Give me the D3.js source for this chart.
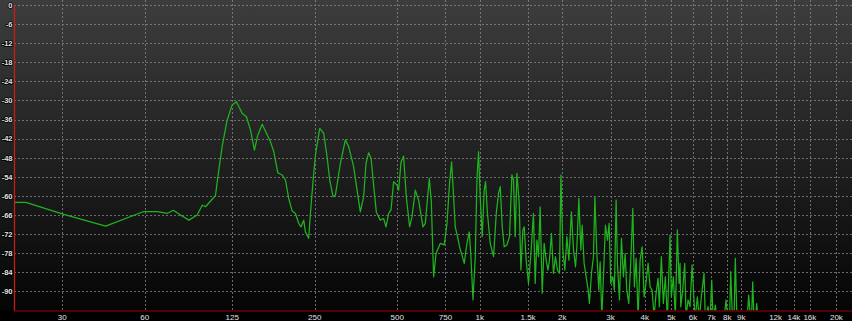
<!DOCTYPE html>
<html>
<head>
<meta charset="utf-8">
<script src="https://d3js.org/d3.v7.min.js"></script>
<style>
  body { margin: 0; background: #000; }
  svg { display: block; }
  .tick-lbl { font-family: "Liberation Sans", Arial, sans-serif; fill: #e2e2e2; paint-order: stroke; stroke: #000; stroke-width: 1.5px; }
</style>
</head>
<body>
<svg id="chart"></svg>
<script>
// spectrum: frequency (Hz) and level (dB)
var freqs = [20.1, 22.1, 30.4, 43.2, 59.5, 66.6, 72.4, 76.2, 81.0, 86.9, 93.2, 97.2, 99.9, 107.1, 108.7, 111.7, 114.9, 119.8, 125, 129.6,
  135.9, 140.9, 145.8, 150.7, 155.0, 160.8, 166.7, 172.4, 177.3, 183.3, 190.1, 195.5, 201.0, 206.8, 212.6, 218.6, 223.0, 228.0, 231.2, 237.7,
  241.2, 246.7, 252, 260.8, 269.6, 277.4, 283.6, 291.8, 297.5, 310.1, 323.5, 332.6, 346.7, 356.8, 366.8, 377.1, 384.7, 393.4, 401.4, 410.1,
  419.6, 433.8, 446, 455, 465.2, 474.7, 485, 499.3, 505.9, 516.2, 527.4, 539.6, 554.8, 566, 582, 598.3, 620.7, 632.9, 654.7, 665.7,
  678.8, 692.6, 718, 742.3, 759.4, 775.9, 789.5, 802.8, 814, 829.9, 843.8, 861.4, 877.8, 898, 915.7, 928.6, 944.7, 963.2, 976.7, 989.9,
  1004, 1021, 1038, 1050, 1067, 1092, 1123, 1149, 1171, 1188, 1208, 1228, 1256, 1284, 1310, 1328, 1347, 1366, 1393, 1413,
  1437, 1453, 1477, 1506, 1537, 1570, 1593, 1616, 1638, 1661, 1690, 1718, 1747, 1773, 1796, 1826, 1857, 1889, 1921, 1954,
  1977, 2010, 2044, 2079, 2114, 2160, 2198, 2235, 2261, 2299, 2338, 2364, 2403, 2444, 2486, 2512, 2556, 2599, 2630, 2674,
  2719, 2749, 2788, 2826, 2874, 2922, 2965, 3006, 3058, 3099, 3144, 3178, 3233, 3288, 3343, 3391, 3439, 3497, 3557, 3617,
  3665, 3719, 3782, 3846, 3911, 3978, 4045, 4113, 4182, 4253, 4325, 4398, 4472, 4521, 4597, 4675, 4754, 4836, 4945, 5000,
  5084, 5170, 5258, 5333, 5378, 5410, 5501, 5594, 5657, 5752, 5849, 5950, 6013, 6101, 6220, 6325, 6431, 6580, 6653, 6803, 6920,
  7018, 7100, 7234, 7336, 7782, 7912, 8045, 8152, 8232, 8356, 8462, 8556, 8676, 9440, 9575, 9720, 9802, 9903, 10010, 10130, 10240, 10350];

var levels = [-62.0, -62.0, -65.8, -69.5, -64.9, -64.9, -65.5, -64.5, -66.0, -67.6, -66.0, -62.9, -63.4, -60.5, -59.7, -51.9, -44.5, -36.2, -31.4, -30.4,
  -34.0, -35.1, -39.3, -45.6, -40.9, -37.5, -40.3, -43.0, -46.1, -52.7, -53.4, -55.0, -60.8, -64.7, -65.5, -68.6, -69.7, -67.6, -71.3, -73.3,
  -65.5, -55.0, -46.6, -38.8, -40.3, -47.7, -55.0, -60.3, -59.7, -49.8, -42.4, -44.5, -50.8, -58.2, -65.0, -60.3, -49.8, -46.4, -48.2, -56.6,
  -65.1, -67.6, -67.1, -69.7, -65.5, -64.4, -55.5, -56.6, -58.2, -49.3, -47.5, -60.3, -69.7, -66.6, -58.2, -61.3, -69.7, -68.6, -54.5, -61.8,
  -85.4, -78.1, -74.9, -75.4, -68.6, -56.1, -49.3, -60.3, -69.7, -72.8, -76.0, -78.6, -81.2, -74.9, -71.3, -79.1, -92.7, -79.1, -55.0, -46.1,
  -60.3, -72.8, -58.2, -55.5, -65.5, -74.9, -79.1, -65.5, -59.2, -57.1, -69.7, -76.0, -75.4, -72.8, -53.4, -55.0, -72.8, -52.9, -62.3, -83.3,
  -70.7, -69.7, -80.2, -87.5, -78.1, -65.5, -87.5, -73.9, -79.1, -63.4, -90.6, -74.9, -80.2, -83.3, -80.2, -71.8, -84.3, -79.1, -83.3, -84.3,
  -53.4, -77.0, -83.3, -72.8, -80.2, -65.0, -77.0, -82.3, -76.0, -60.8, -77.0, -69.2, -81.2, -85.4, -89.6, -93.8, -84.3, -79.1, -60.3, -78.1,
  -89.6, -80.7, -98, -85.4, -69.2, -73.9, -68.6, -87.5, -85.4, -89.6, -61.3, -81.2, -92.7, -73.3, -85.4, -78.1, -89.6, -93.8, -80.2, -63.9,
  -88.6, -79.6, -98, -80.2, -76.0, -91.7, -87.0, -81.2, -88.6, -89.6, -98, -90.6, -85.9, -94.8, -79.1, -93.8, -85.4, -99, -72.3, -91.7,
  -85.4, -98, -70.7, -87.5, -81.2, -94.8, -89.6, -81.2, -98, -92.7, -94.8, -81.7, -88.6, -99, -91.7, -99, -91.7, -84.3, -99, -94.8, -99,
  -86.5, -99, -94.3, -99, -99, -92.7, -99, -99, -83.8, -99, -99, -79.6, -99, -99, -91.2, -99, -99, -87.0, -99, -99, -93.8, -99];

var xTicks = [30, 60, 125, 250, 500, 750, 1000, 1500, 2000, 3000, 4000, 5000, 6000, 7000, 8000, 9000, 12000, 14000, 16000, 20000];
var xTickLabels = ["30", "60", "125", "250", "500", "750", "1k", "1.5k", "2k", "3k", "4k", "5k", "6k", "7k", "8k", "9k", "12k", "14k", "16k", "20k"];
var yTicks = [0, -6, -12, -18, -24, -30, -36, -42, -48, -54, -60, -66, -72, -78, -84, -90];

var W = 852, H = 321;
var plotLeft = 14, plotTop = 5, plotRight = 852, plotBottom = 310.5;

var svg = d3.select("#chart")
    .attr("width", W)
    .attr("height", H);

var defs = svg.append("defs");
var grad = defs.append("linearGradient")
    .attr("id", "bg")
    .attr("x1", 0).attr("y1", 0).attr("x2", 0).attr("y2", 1);
grad.append("stop").attr("offset", "0%").attr("stop-color", "#3d3d3d");
grad.append("stop").attr("offset", "55%").attr("stop-color", "#1e1e1e");
grad.append("stop").attr("offset", "100%").attr("stop-color", "#050505");

defs.append("clipPath")
    .attr("id", "plotclip")
  .append("rect")
    .attr("x", plotLeft).attr("y", 0)
    .attr("width", plotRight - plotLeft).attr("height", plotBottom);

svg.append("rect")
    .attr("width", W).attr("height", H)
    .attr("fill", "#000");
svg.append("rect")
    .attr("width", W).attr("height", plotBottom)
    .attr("fill", "url(#bg)");

var x = d3.scaleLog()
    .domain([20, 22800])
    .range([plotLeft, plotRight]);

var y = d3.scaleLinear()
    .domain([-96, 0])
    .range([plotBottom, plotTop]);

// grid
var grid = svg.append("g")
    .attr("stroke", "#8a8a8a")
    .attr("stroke-width", 1)
    .attr("stroke-dasharray", "2,2")
    .attr("opacity", 0.75);

grid.selectAll("line.h")
    .data(yTicks)
  .enter().append("line")
    .attr("class", "h")
    .attr("x1", plotLeft).attr("x2", plotRight)
    .attr("y1", function(d) { return Math.round(y(d)) + 0.5; })
    .attr("y2", function(d) { return Math.round(y(d)) + 0.5; });

grid.selectAll("line.v")
    .data(xTicks)
  .enter().append("line")
    .attr("class", "v")
    .attr("y1", 0).attr("y2", plotBottom)
    .attr("x1", function(d) { return Math.round(x(d)) + 0.5; })
    .attr("x2", function(d) { return Math.round(x(d)) + 0.5; });

// spectrum line
var pts = freqs.map(function(f, i) { return [f, levels[i]]; });

var line = d3.line()
    .x(function(d) { return x(d[0]); })
    .y(function(d) { return y(d[1]); });

svg.append("path")
    .datum(pts)
    .attr("clip-path", "url(#plotclip)")
    .attr("fill", "none")
    .attr("stroke", "#1fb41f")
    .attr("stroke-width", 1.25)
    .attr("stroke-linejoin", "round")
    .attr("d", line);

// axis lines
svg.append("line")
    .attr("x1", plotLeft).attr("x2", plotRight)
    .attr("y1", plotBottom + 0.5).attr("y2", plotBottom + 0.5)
    .attr("stroke", "#6e0000")
    .attr("stroke-width", 1.5);

svg.append("line")
    .attr("x1", plotLeft + 0.5).attr("x2", plotLeft + 0.5)
    .attr("y1", plotTop).attr("y2", plotBottom)
    .attr("stroke", "#c41d1d")
    .attr("stroke-width", 1.3);

// labels
svg.append("g").selectAll("text")
    .data(yTicks)
  .enter().append("text")
    .attr("class", "tick-lbl")
    .attr("x", 12.5)
    .attr("y", function(d) { return y(d) + 2.8; })
    .attr("text-anchor", "end")
    .style("font-size", "7.5px")
    .style("font-weight", "bold")
    .text(function(d) { return d; });

svg.append("g").selectAll("text")
    .data(xTicks)
  .enter().append("text")
    .attr("class", "tick-lbl")
    .attr("x", function(d) { return x(d); })
    .attr("y", 319.5)
    .attr("text-anchor", "middle")
    .style("font-size", "8px")
    .text(function(d, i) { return xTickLabels[i]; });
</script>
</body>
</html>
